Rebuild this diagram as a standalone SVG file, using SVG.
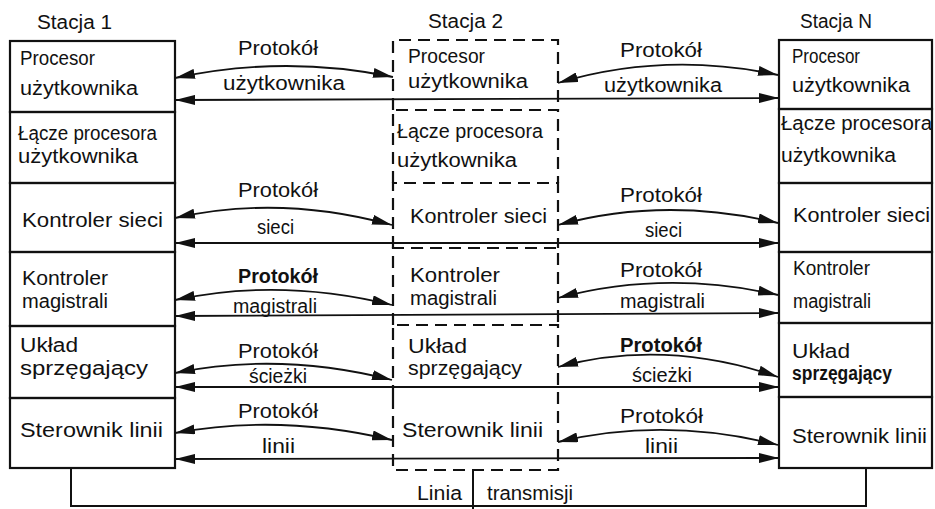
<svg xmlns="http://www.w3.org/2000/svg" width="935" height="509" viewBox="0 0 935 509">
<defs>
<style>
text{font-family:"Liberation Sans",Arial,sans-serif;font-size:20px;fill:#111}
.b{font-weight:bold}
.box{fill:none;stroke:#111;stroke-width:2.2}
.dash{fill:none;stroke:#111;stroke-width:2.2;stroke-dasharray:12 7}
.arr{fill:none;stroke:#111;stroke-width:1.8;marker-start:url(#ah);marker-end:url(#ah)}
.ln{fill:none;stroke:#111;stroke-width:2}
</style>
<marker id="ah" markerUnits="userSpaceOnUse" markerWidth="20" markerHeight="10" viewBox="0 0 20 10" refX="20" refY="5" orient="auto-start-reverse">
<path d="M0,0 L20,5 L0,10 z" fill="#111"/>
</marker>
</defs>
<rect width="935" height="509" fill="#fff"/>

<g id="stacja1">
<text x="37" y="29" textLength="75" lengthAdjust="spacingAndGlyphs">Stacja  1</text>
<g id="s1-procesor"><rect class="box" x="10" y="41" width="165" height="71"/>
<text x="20" y="65" textLength="75" lengthAdjust="spacingAndGlyphs">Procesor</text>
<text x="20" y="95" textLength="118" lengthAdjust="spacingAndGlyphs">użytkownika</text></g>
<g id="s1-lacze"><rect class="box" x="10" y="112" width="165" height="71"/>
<text x="18" y="140" textLength="139" lengthAdjust="spacingAndGlyphs">Łącze procesora</text>
<text x="18" y="163" textLength="120" lengthAdjust="spacingAndGlyphs">użytkownika</text></g>
<g id="s1-siec"><rect class="box" x="10" y="183" width="165" height="69"/>
<text x="22" y="227" textLength="141" lengthAdjust="spacingAndGlyphs">Kontroler  sieci</text></g>
<g id="s1-magistrala"><rect class="box" x="10" y="252" width="165" height="74"/>
<text x="22" y="285" textLength="86" lengthAdjust="spacingAndGlyphs">Kontroler</text>
<text x="22" y="308" textLength="86" lengthAdjust="spacingAndGlyphs">magistrali</text></g>
<g id="s1-uklad"><rect class="box" x="10" y="326" width="165" height="72"/>
<text x="20" y="352" textLength="58" lengthAdjust="spacingAndGlyphs">Układ</text>
<text x="20" y="375" textLength="128" lengthAdjust="spacingAndGlyphs">sprzęgający</text></g>
<g id="s1-sterownik"><rect class="box" x="10" y="398" width="165" height="70"/>
<text x="20" y="437" textLength="143" lengthAdjust="spacingAndGlyphs">Sterownik  linii</text></g>
</g>

<g id="stacja2">
<text x="428" y="28" textLength="75" lengthAdjust="spacingAndGlyphs">Stacja  2</text>
<g id="s2-procesor"><path class="dash" d="M393,110 V40 H558 V110"/>
<text x="408" y="63" textLength="77" lengthAdjust="spacingAndGlyphs">Procesor</text>
<text x="408" y="88" textLength="120" lengthAdjust="spacingAndGlyphs">użytkownika</text></g>
<g id="s2-lacze"><path class="dash" d="M393,183 V110 H558 V183"/>
<text x="397" y="138" textLength="146" lengthAdjust="spacingAndGlyphs">Łącze procesora</text>
<text x="397" y="167" textLength="120" lengthAdjust="spacingAndGlyphs">użytkownika</text></g>
<g id="s2-siec"><path class="dash" d="M393,248 V183 H558 V248"/>
<text x="410" y="223" textLength="137" lengthAdjust="spacingAndGlyphs">Kontroler sieci</text></g>
<g id="s2-magistrala"><path class="dash" d="M393,325 V248 H558 V325"/>
<text x="410" y="282" textLength="90" lengthAdjust="spacingAndGlyphs">Kontroler</text>
<text x="410" y="305" textLength="87" lengthAdjust="spacingAndGlyphs">magistrali</text></g>
<g id="s2-uklad"><path class="dash" d="M393,397 V325 H558 V397"/>
<text x="408" y="353" textLength="59" lengthAdjust="spacingAndGlyphs">Układ</text>
<text x="408" y="375" textLength="114" lengthAdjust="spacingAndGlyphs">sprzęgający</text></g>
<g id="s2-sterownik"><path class="dash" d="M393,397 V470 H558 V397"/>
<text x="402" y="437" textLength="141" lengthAdjust="spacingAndGlyphs">Sterownik  linii</text></g>
</g>

<g id="stacjaN">
<text x="800" y="28" textLength="72" lengthAdjust="spacingAndGlyphs">Stacja  N</text>
<g id="sN-procesor"><rect class="box" x="779" y="40" width="153" height="69"/>
<text x="792" y="63" textLength="68" lengthAdjust="spacingAndGlyphs">Procesor</text>
<text x="792" y="92" textLength="118" lengthAdjust="spacingAndGlyphs">użytkownika</text></g>
<g id="sN-lacze"><rect class="box" x="779" y="109" width="153" height="74"/>
<text x="781" y="130" textLength="151" lengthAdjust="spacingAndGlyphs">Łącze procesora</text>
<text x="781" y="162" textLength="115" lengthAdjust="spacingAndGlyphs">użytkownika</text></g>
<g id="sN-siec"><rect class="box" x="779" y="183" width="153" height="69"/>
<text x="793" y="222" textLength="137" lengthAdjust="spacingAndGlyphs">Kontroler sieci</text></g>
<g id="sN-magistrala"><rect class="box" x="779" y="252" width="153" height="71"/>
<text x="793" y="275" textLength="77" lengthAdjust="spacingAndGlyphs">Kontroler</text>
<text x="793" y="308" textLength="78" lengthAdjust="spacingAndGlyphs">magistrali</text></g>
<g id="sN-uklad"><rect class="box" x="779" y="323" width="153" height="74"/>
<text x="792" y="358" textLength="58" lengthAdjust="spacingAndGlyphs">Układ</text>
<text class="b" x="792" y="380" textLength="100" lengthAdjust="spacingAndGlyphs">sprzęgający</text></g>
<g id="sN-sterownik"><rect class="box" x="779" y="397" width="153" height="71"/>
<text x="792" y="443" textLength="135" lengthAdjust="spacingAndGlyphs">Sterownik linii</text></g>
</g>

<g id="connectors">
<path class="arr" d="M175,78 Q284,54.5 393,77"/>
<path class="arr" d="M175,218 Q280,194.5 392,225"/>
<path class="arr" d="M175,300 Q280,277.5 392,305"/>
<path class="arr" d="M175,373 Q280,351.5 392,380"/>
<path class="arr" d="M175,433 Q280,413.5 392,440"/>
<path class="arr" d="M558,83 Q665,51 778,75"/>
<path class="arr" d="M558,225 Q665,196 778,223"/>
<path class="arr" d="M558,298 Q665,269.5 778,295"/>
<path class="arr" d="M558,367 Q665,338 778,377"/>
<path class="arr" d="M558,442 Q665,416.5 778,445"/>
<path class="arr" d="M175,100 L779,98"/>
<path class="arr" d="M175,243 L779,243"/>
<path class="arr" d="M175,316 L779,313"/>
<path class="arr" d="M175,387 L779,387"/>
<path class="arr" d="M175,459 L779,458"/>
<path class="ln" d="M71,468 V506 H866 V468"/>
<path class="ln" d="M473,470 V509"/>
</g>

<g id="labels">
<text x="238" y="55" textLength="80" lengthAdjust="spacingAndGlyphs">Protokół</text>
<text x="223" y="90" textLength="122" lengthAdjust="spacingAndGlyphs">użytkownika</text>
<text x="238" y="197" textLength="80" lengthAdjust="spacingAndGlyphs">Protokół</text>
<text x="257" y="234" textLength="37" lengthAdjust="spacingAndGlyphs">sieci</text>
<text class="b" x="238" y="283" textLength="80" lengthAdjust="spacingAndGlyphs">Protokół</text>
<text x="233" y="313" textLength="84" lengthAdjust="spacingAndGlyphs">magistrali</text>
<text x="238" y="358" textLength="80" lengthAdjust="spacingAndGlyphs">Protokół</text>
<text x="249" y="383" textLength="58" lengthAdjust="spacingAndGlyphs">ścieżki</text>
<text x="238" y="418" textLength="80" lengthAdjust="spacingAndGlyphs">Protokół</text>
<text x="262" y="453" textLength="33" lengthAdjust="spacingAndGlyphs">linii</text>
<text x="620" y="57" textLength="82" lengthAdjust="spacingAndGlyphs">Protokół</text>
<text x="604" y="92" textLength="118" lengthAdjust="spacingAndGlyphs">użytkownika</text>
<text x="620" y="202" textLength="82" lengthAdjust="spacingAndGlyphs">Protokół</text>
<text x="645" y="237" textLength="37" lengthAdjust="spacingAndGlyphs">sieci</text>
<text x="620" y="277" textLength="82" lengthAdjust="spacingAndGlyphs">Protokół</text>
<text x="620" y="308" textLength="85" lengthAdjust="spacingAndGlyphs">magistrali</text>
<text class="b" x="620" y="352" textLength="82" lengthAdjust="spacingAndGlyphs">Protokół</text>
<text x="632" y="382" textLength="60" lengthAdjust="spacingAndGlyphs">ścieżki</text>
<text x="620" y="423" textLength="83" lengthAdjust="spacingAndGlyphs">Protokół</text>
<text x="645" y="453" textLength="33" lengthAdjust="spacingAndGlyphs">linii</text>
<text x="417" y="500" textLength="45" lengthAdjust="spacingAndGlyphs">Linia</text>
<text x="487" y="500" textLength="86" lengthAdjust="spacingAndGlyphs">transmisji</text>
</g>
</svg>
